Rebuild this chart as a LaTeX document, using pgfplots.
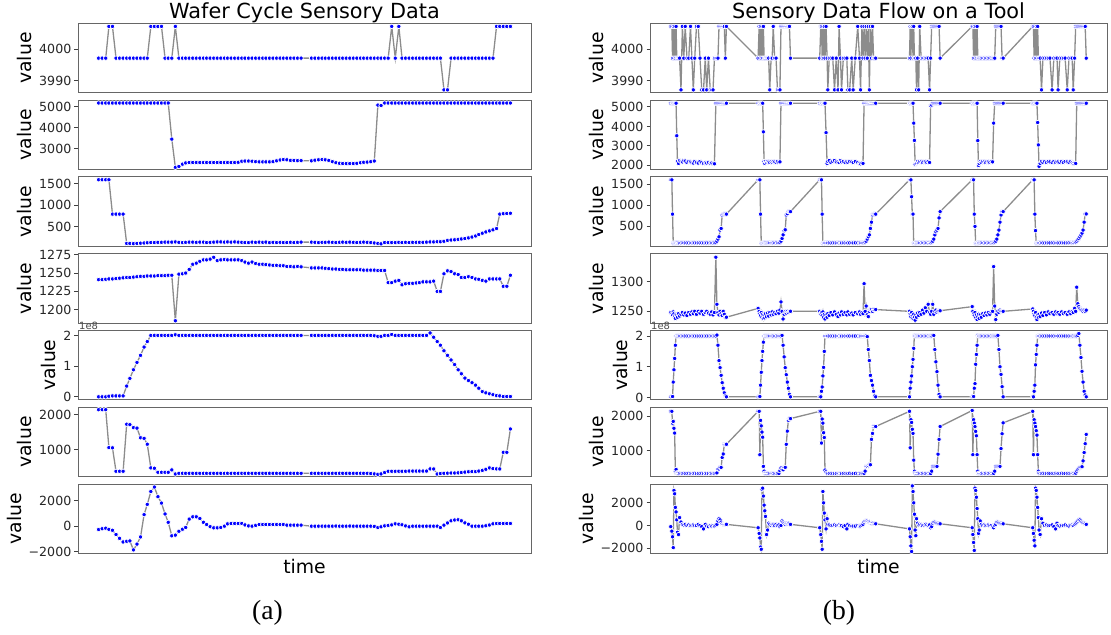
\documentclass[border=0pt]{standalone}
\usepackage{pgfplots}
\pgfplotsset{compat=1.18}
\usepackage{pgfplotstable}
\usepackage{fontspec}
\setmainfont{DejaVu Sans}
\newfontfamily\capfont{Liberation Serif}

% left: one wafer cycle, x in picture units
\pgfplotstableread{
x a b c d e f g
275 3997.2 5190 1600 1241 0.00 2144 -260
285 3997.2 5190 1600 1241 0.00 2144 -200
295 3997.2 5190 1600 1241.5 0.00 2144 -160
304 4007.3 5190 1600 1242 0.02 1067 -250
314 4007.3 5190 790 1242 0.03 1060 -320
324 3997.2 5190 790 1242.5 0.03 394 -650
334 3997.2 5190 790 1243 0.03 394 -950
344 3997.2 5190 790 1243.5 0.03 394 -1230
354 3997.2 5190 100 1244 0.35 1731 -1180
363 3997.2 5190 100 1244 0.60 1720 -1150
373 3997.2 5190 95 1244.5 0.88 1635 -1850
383 3997.2 5190 100 1245 1.12 1620 -1400
393 3997.2 5190 105 1245.5 1.35 1346 -840
403 3997.2 5190 110 1245.5 1.62 1330 900
412 3997.2 5190 115 1246 1.80 1163 1700
422 4007.3 5190 120 1246 2.00 490 2700
432 4007.3 5190 120 1246 2.00 480 3050
442 4007.3 5190 125 1246.5 2.00 365 2300
452 4007.3 5190 125 1246.5 2.00 365 1800
462 3997.2 5190 130 1246.5 2.00 365 950
471 3997.2 5190 130 1247 2.00 365 300
481 3997.2 3460 130 1247 2.00 433 -750
491 4007.3 2110 135 1185 2.02 317 -700
501 3997.2 2150 125 1248.5 2.00 336 -400
511 3997.2 2260 120 1249 2.00 336 -240
520 3997.2 2320 125 1250 2.00 336 -100
530 3997.2 2340 130 1255 2.00 336 550
540 3997.2 2340 130 1262 2.00 336 730
550 3997.2 2340 125 1263.5 2.00 336 730
560 3997.2 2340 130 1266 2.00 336 600
570 3997.2 2340 130 1268 2.00 336 300
579 3997.2 2340 120 1268 2.00 336 130
589 3997.2 2340 125 1269 2.00 336 -40
599 3997.2 2340 130 1271.5 2.00 336 -130
609 3997.2 2340 135 1267 2.00 336 -130
619 3997.2 2340 135 1268 2.00 336 -100
629 3997.2 2340 130 1268.5 2.00 336 0
638 3997.2 2340 135 1268 2.00 336 180
648 3997.2 2340 130 1268 2.00 336 210
658 3997.2 2340 135 1268 2.00 336 210
668 3997.2 2350 130 1268 2.00 336 210
678 3997.2 2400 125 1267 2.00 336 210
687 3997.2 2410 120 1265 2.00 336 100
697 3997.2 2410 120 1263.5 2.00 336 20
707 3997.2 2400 130 1265 2.00 336 0
717 3997.2 2380 125 1263 2.00 336 60
727 3997.2 2370 130 1262 2.00 336 130
737 3997.2 2370 125 1262 2.00 336 130
746 3997.2 2370 130 1261.5 2.00 336 130
756 3997.2 2370 120 1261 2.00 336 130
766 3997.2 2380 125 1260.5 2.00 336 130
776 3997.2 2420 120 1260.5 2.00 336 130
786 3997.2 2460 125 1260 2.00 336 130
795 3997.2 2480 120 1260 2.00 336 130
805 3997.2 2470 120 1259 2.00 336 80
815 3997.2 2440 125 1259 2.00 336 80
825 3997.2 2440 120 1258.5 2.00 336 80
835 3997.2 2430 125 1259 2.00 336 80
845 3997.2 2430 130 1258.5 2.00 336 80
874 3997.2 2420 130 1257 2.00 336 0
884 3997.2 2450 125 1257 2.00 336 0
894 3997.2 2470 120 1257 2.00 336 0
904 3997.2 2480 125 1257 2.00 336 0
913 3997.2 2470 125 1256.5 2.00 336 0
923 3997.2 2440 130 1256 2.00 336 0
933 3997.2 2380 125 1255.5 2.00 336 0
943 3997.2 2330 120 1255.5 2.00 336 10
953 3997.2 2300 125 1255 2.00 336 0
962 3997.2 2290 130 1255 2.00 336 0
972 3997.2 2290 125 1254.5 2.00 336 0
982 3997.2 2290 130 1254.5 2.00 336 10
992 3997.2 2290 125 1254.5 2.00 336 0
1002 3997.2 2300 120 1254.5 2.00 336 0
1012 3997.2 2330 125 1254.5 2.00 336 0
1021 3997.2 2350 130 1254 2.00 336 0
1031 3997.2 2360 125 1254 2.00 336 0
1041 3997.2 2380 120 1254 2.00 330 0
1051 3997.2 2410 110 1254 1.99 320 -20
1061 3997.2 5090 100 1253.5 1.97 308 -105
1070 3997.2 5070 90 1253.5 1.97 320 -50
1080 3997.2 5190 120 1253.5 2.00 360 26
1090 3997.2 5190 120 1237 2.00 394 60
1100 4007.3 5190 120 1237 2.03 394 100
1110 3997.2 5190 120 1239 2.00 394 183
1120 4007.3 5190 125 1240 2.00 394 150
1129 3997.2 5190 120 1234 2.00 394 110
1139 3997.2 5190 125 1235.5 2.00 394 20
1149 3997.2 5190 120 1236 2.00 400 -50
1159 3997.2 5190 125 1236 2.00 400 0
1169 3997.2 5190 125 1236.5 2.00 400 0
1178 3997.2 5190 125 1237 2.00 400 0
1188 3997.2 5190 125 1238 2.00 400 0
1198 3997.2 5190 130 1238 2.00 400 0
1208 3997.2 5190 135 1238 2.08 462 0
1218 3997.2 5190 135 1239 1.94 460 0
1228 3997.2 5190 140 1225 1.80 317 0
1237 3997.2 5190 140 1225 1.68 330 -105
1247 3987.1 5190 150 1249 1.50 336 80
1257 3987.1 5190 170 1253 1.35 340 250
1267 3997.2 5190 180 1252 1.20 345 418
1277 3997.2 5190 185 1249 1.05 345 480
1287 3997.2 5190 195 1248 0.88 350 500
1296 3997.2 5190 205 1244 0.75 360 418
1306 3997.2 5190 215 1244 0.61 370 260
1316 3997.2 5190 230 1245 0.53 380 150
1326 3997.2 5190 250 1244 0.46 385 0
1336 3997.2 5190 275 1242 0.38 385 0
1345 3997.2 5190 310 1241.5 0.28 400 0
1355 3997.2 5190 340 1240 0.17 420 0
1365 3997.2 5190 370 1239 0.13 450 30
1375 3997.2 5190 395 1242 0.10 490 90
1385 3997.2 5190 420 1242 0.07 470 183
1395 4007.3 5190 450 1242 0.04 462 209
1404 4007.3 5190 790 1242 0.03 460 209
1414 4007.3 5190 800 1232 0.01 933 209
1424 4007.3 5190 805 1232 0.01 933 209
1434 4007.3 5190 810 1247 0.01 1596 209
}\lefttab

% right: six cycles on one tool
\pgfplotstableread{
x a b c d e f g
312 4007.3 5190 1600 1248 0.02 2144 -100
315 4007.3 5190 1600 1246 0.03 2144 -500
317 3997.2 5190 790 1244 0.03 1800 -1000
319 4007.3 5190 100 1249 0.50 1850 -1955
321 3997.2 5190 100 1246 0.90 1650 3100
323 4007.3 5190 110 1241 1.27 1510 2800
325 3997.2 5190 105 1238 1.70 390 1600
327 4007.3 5190 110 1245 2.00 450 1200
329 3997.2 3520 110 1243 2.00 350 500
331 3997.2 2200 110 1240 2.00 340 -600
334 3997.2 2100 110 1246 2.00 330 -800
337 3997.2 2250 105 1242 2.00 335 700
341 3987.1 2200 110 1245 2.00 330 300
345 4007.3 2180 110 1248 2.00 330 100
349 3997.2 2250 112 1244 2.00 335 50
353 4007.3 2220 110 1247 2.00 330 100
358 3997.2 2150 110 1243 2.00 330 0
363 3997.2 2200 110 1248 2.00 335 50
368 4007.3 2180 108 1245 2.00 330 0
372 3997.2 2150 110 1249 2.00 330 0
376 3987.1 2120 110 1246 2.00 330 50
380 3997.2 2200 110 1250 2.00 335 0
385 4007.3 2150 110 1245 2.00 330 0
390 4007.3 2120 110 1250 2.00 330 100
395 3997.2 2200 110 1247 2.00 330 0
400 3987.1 2150 112 1250 2.00 335 -100
405 3987.1 2100 110 1245 2.00 330 -300
410 3997.2 2130 110 1248 2.00 330 100
414 3987.1 2120 110 1250 2.00 330 -50
419 3997.2 2150 110 1247 2.00 330 -100
424 3987.1 2100 112 1245 2.00 335 0
428 3987.1 2120 110 1249 2.00 330 -50
432 3987.1 2090 110 1244 2.00 330 0
436 3997.2 2080 110 1248 2.00 330 -50
440 3997.2 5190 115 1342 2.00 335 0
443 3997.2 5190 150 1262 2.03 350 100
446 3997.2 5190 200 1248 1.70 460 400
449 4007.3 5190 254 1244 1.20 465 600
452 4007.3 5190 413 1250 0.97 510 500
455 4007.3 5190 452 1246 0.72 510 300
458 4007.3 5190 770 1243 0.48 798 150
461 4007.3 5190 790 1250 0.30 900 100
464 4007.3 5190 794 1245 0.15 1183 100
467 3997.2 5190 794 1240 0.05 1183 100
470 4007.3 5190 790 1240 0.02 1183 100
560 3997.2 5190 1600 1255 0.02 2144 -200
563 4007.3 5190 1600 1250 0.03 2144 -700
565 3997.2 5190 1600 1246 0.03 880 -1100
567 4007.3 5190 790 1243 0.40 1880 -1900
569 3997.2 5190 100 1248 0.82 1720 -2100
571 4007.3 5190 100 1240 1.20 1540 3200
573 3997.2 5190 105 1245 1.50 1390 3300
575 4007.3 3720 110 1238 1.80 540 2600
577 3997.2 2200 110 1244 2.00 400 1800
579 3997.2 2100 110 1239 2.00 340 1300
581 3997.2 2200 110 1246 2.00 330 800
584 3997.2 2150 108 1241 2.00 330 -800
587 3997.2 2200 110 1247 2.00 335 -400
590 3997.2 2180 110 1242 2.00 330 200
593 3987.1 2150 110 1248 2.00 330 100
597 3997.2 2200 110 1244 2.00 330 0
600 3997.2 2150 110 1249 2.00 335 100
603 4007.3 2200 110 1245 2.00 330 50
607 3997.2 2180 110 1248 2.00 330 0
611 3997.2 2150 112 1246 2.00 330 100
615 3987.1 2200 110 1250 2.00 335 0
619 3987.1 2150 110 1247 2.00 330 50
622 3987.1 2180 115 1252 2.00 413 -100
625 4007.3 5190 150 1266 2.00 490 0
628 4007.3 5190 214 1250 2.02 450 400
631 4007.3 5190 300 1237 1.70 440 300
634 4007.3 5190 397 1245 1.32 510 200
637 4007.3 5190 420 1249 0.97 510 100
640 4007.3 5190 770 1247 0.74 1183 200
643 4007.3 5190 800 1250 0.50 1567 150
646 4007.3 5190 849 1248 0.30 1885 200
649 4007.3 5190 849 1250 0.10 1933 150
652 3997.2 5190 849 1250 0.02 1933 100
735 3997.2 5190 1600 1250 0.02 2144 -200
738 4007.3 5190 1600 1246 0.02 2144 -800
740 4007.3 5190 1600 1248 0.20 1220 -1400
742 3997.2 5190 790 1243 0.34 1920 -2100
744 4007.3 5190 100 1249 0.70 1800 3000
746 3997.2 5190 100 1240 0.98 1520 2000
748 4007.3 5190 105 1245 1.50 1380 1100
750 3997.2 5190 110 1237 2.00 430 500
753 4007.3 3680 110 1244 2.00 380 -300
756 3997.2 2100 110 1240 2.00 340 600
758 3987.1 2200 110 1246 2.00 330 100
762 3997.2 2250 110 1243 2.00 330 50
767 3997.2 2150 108 1248 2.00 335 0
772 3997.2 2200 110 1244 2.00 330 0
777 3987.1 2250 110 1249 2.00 330 50
782 3997.2 2180 110 1245 2.00 330 0
787 3987.1 2200 112 1241 2.00 335 0
790 4007.3 2150 110 1247 2.00 330 50
794 3997.2 2250 110 1244 2.00 330 0
797 3987.1 2180 110 1249 2.00 330 0
802 3997.2 2200 110 1245 2.00 335 -100
807 3997.2 2150 110 1248 2.00 330 0
812 3997.2 2200 108 1244 2.00 330 -300
815 3987.1 2150 110 1249 2.00 330 100
820 3987.1 2200 110 1245 2.00 335 0
826 3997.2 2180 110 1247 2.00 330 -50
830 3987.1 2150 110 1244 2.00 330 -50
836 3997.2 2200 112 1248 2.00 335 -50
843 4007.3 2150 110 1246 2.00 330 0
848 3997.2 2100 110 1249 2.00 330 -50
851 3987.1 2080 110 1245 2.00 330 -50
855 4007.3 2120 110 1248 2.00 335 0
858 3997.2 2100 112 1246 2.00 330 100
861 4007.3 5190 115 1297 2.00 335 300
864 3997.2 5190 130 1250 2.00 400 400
867 4007.3 5190 150 1259 2.00 538 400
870 3997.2 5190 200 1244 1.98 538 400
873 4007.3 5190 254 1241 1.56 560 350
876 3987.1 5190 300 1250 1.20 587 300
879 4007.3 5190 452 1253 0.72 587 250
882 3997.2 5190 600 1253 0.55 1327 200
885 4007.3 5190 770 1250 0.40 1500 200
888 3997.2 5190 790 1253 0.20 1702 150
891 3997.2 5190 790 1253 0.05 1702 150
894 3997.2 5190 790 1253 0.02 1702 150
990 3997.2 5190 1600 1250 0.02 2144 -300
992 4007.3 5190 1600 1246 0.30 1080 -1000
994 3997.2 5190 1600 1241 0.50 1900 -1800
996 4007.3 5190 1200 1248 0.70 1820 -2300
998 4007.3 5190 790 1243 1.00 1620 3500
1000 3997.2 5190 790 1238 1.24 1500 3000
1002 4007.3 4170 100 1245 1.60 721 2000
1004 3997.2 3280 100 1240 2.02 400 1000
1006 3997.2 2050 105 1235 2.00 340 -400
1008 3997.2 2100 110 1244 2.00 330 -900
1010 3987.1 2150 110 1240 2.00 330 600
1013 3997.2 2200 110 1247 2.00 335 200
1016 3987.1 2150 110 1243 2.00 330 50
1019 4007.3 2200 110 1248 2.00 330 100
1023 3997.2 2180 110 1245 2.00 330 50
1027 3997.2 2150 112 1252 2.00 335 0
1031 3997.2 2200 110 1247 2.00 330 50
1035 3997.2 2180 110 1256 2.00 330 100
1039 3997.2 2150 110 1250 2.00 330 50
1043 3997.2 2200 110 1262 2.00 335 0
1047 3987.1 2150 112 1248 2.00 330 50
1050 3997.2 5060 115 1245 2.00 330 -200
1053 4007.3 5100 130 1250 2.00 400 -100
1056 4007.3 5190 150 1262 2.02 538 200
1059 4007.3 5190 200 1245 2.02 538 300
1062 4007.3 5190 300 1250 1.56 538 300
1065 4007.3 5190 373 1252 1.16 538 250
1068 4007.3 5190 410 1248 0.84 538 200
1071 4007.3 5190 452 1250 0.40 894 200
1074 4007.3 5190 700 1251 0.10 1327 150
1077 3997.2 5190 849 1251 0.02 1702 150
1168 4007.3 5190 1600 1258 0.02 2170 -200
1170 4007.3 5190 1600 1250 0.03 880 -800
1172 3997.2 5190 1600 1246 0.03 1900 -1500
1174 4007.3 5190 790 1243 0.30 1800 -2200
1176 3997.2 5190 500 1248 0.45 1700 3300
1178 4007.3 5190 100 1240 1.08 1560 3100
1180 3997.2 5190 100 1244 1.40 1430 2500
1182 4007.3 5190 105 1236 1.70 880 1500
1184 3997.2 3270 110 1241 2.02 400 600
1186 3997.2 2000 110 1245 2.00 340 -700
1188 3997.2 2100 110 1238 2.00 330 -400
1191 3997.2 2200 110 1244 2.00 330 400
1194 3997.2 2150 110 1240 2.00 335 100
1198 3997.2 2200 112 1246 2.00 330 0
1202 3997.2 2180 110 1243 2.00 330 50
1206 3997.2 2150 110 1247 2.00 335 0
1210 3997.2 2200 110 1244 2.00 330 0
1214 3997.2 2180 110 1248 2.00 330 50
1218 3997.2 2150 112 1245 2.00 335 0
1222 3997.2 2200 110 1249 2.00 330 0
1226 3997.2 2180 110 1250 2.00 330 -100
1229 3997.2 4170 115 1326 2.00 335 -200
1232 3997.2 5190 130 1259 2.00 400 0
1235 4007.3 5190 150 1236 2.00 538 100
1238 4007.3 5190 200 1245 2.00 538 300
1241 4007.3 5190 300 1250 2.02 538 300
1244 4007.3 5190 413 1248 1.56 538 250
1247 4007.3 5190 600 1252 1.00 538 200
1250 4007.3 5190 770 1250 0.75 1058 200
1253 3997.2 5190 849 1250 0.35 1490 150
1256 3997.2 5190 849 1250 0.02 1808 150
1340 4007.3 5190 1600 1254 0.02 2144 -200
1342 4007.3 5190 1600 1250 0.02 880 -700
1344 3997.2 5190 1600 1246 0.20 1900 -1300
1346 4007.3 5190 790 1243 0.40 1800 -1800
1348 3997.2 5190 400 1248 1.06 1700 3300
1350 4007.3 5190 100 1240 1.40 1580 3100
1352 3997.2 5190 100 1236 1.70 1450 2500
1354 4007.3 4200 105 1244 2.00 880 1600
1356 3997.2 3050 110 1240 2.00 400 700
1358 3997.2 1950 110 1245 2.00 340 -400
1361 3997.2 2100 110 1241 2.00 330 -800
1365 3987.1 2200 110 1247 2.00 330 600
1369 3997.2 2150 110 1243 2.00 335 200
1374 3997.2 2200 108 1248 2.00 330 0
1379 3997.2 2150 110 1244 2.00 330 50
1384 3997.2 2200 110 1249 2.00 335 0
1389 3997.2 2180 110 1246 2.00 330 0
1395 3987.1 2150 112 1248 2.00 330 50
1400 3997.2 2200 110 1245 2.00 330 -100
1405 3997.2 2150 110 1249 2.00 335 -300
1409 3997.2 2200 110 1246 2.00 330 200
1412 3987.1 2180 110 1248 2.00 330 0
1417 3997.2 2150 110 1245 2.00 330 -50
1422 3997.2 2200 112 1249 2.00 335 0
1427 3997.2 2150 110 1246 2.00 330 0
1432 3997.2 2200 110 1248 2.00 330 50
1438 3987.1 2180 110 1245 2.00 335 0
1443 3997.2 2150 112 1249 2.00 330 -50
1448 3997.2 2200 110 1246 2.00 330 0
1452 3997.2 2150 110 1250 2.00 330 50
1455 3987.1 2100 115 1248 2.00 335 0
1459 3997.2 2100 120 1255 2.00 330 100
1462 4007.3 2100 130 1250 2.00 340 200
1465 4007.3 5190 150 1291 2.00 400 300
1468 4007.3 5190 180 1263 2.02 442 400
1471 4007.3 5190 210 1258 2.08 480 500
1474 4007.3 5190 250 1255 1.70 510 500
1477 4007.3 5190 294 1253 1.30 520 400
1480 4007.3 5190 340 1252 0.85 529 300
1483 4007.3 5190 413 1250 0.50 700 250
1486 4007.3 5190 600 1252 0.20 942 200
1489 4007.3 5190 794 1250 0.08 1200 150
1492 3997.2 5190 794 1252 0.02 1471 100
}\righttab

\pgfplotsset{
  panel/.style={scale only axis, height=34.7pt, anchor=north west,
    axis line style={draw=black!60, line width=0.5pt},
    xtick=\empty, ytick pos=left, tick align=outside,
    scaled y ticks=false,
    major tick length=1.75pt, every tick/.style={black!75, line width=0.5pt},
    yticklabel style={font=\fontsize{6.3}{7}\selectfont, text=black!85, inner sep=1.4pt},
    ylabel={value}, ylabel style={font=\fontsize{9.4}{11}\selectfont, inner sep=2pt},
    every axis title/.style={font=\fontsize{10.4}{12}\selectfont,
      at={(0.5,1)}, anchor=base, yshift=2.6pt},
    xlabel style={font=\fontsize{9.4}{11}\selectfont, at={(0.5,0)}, anchor=base, yshift=-10pt},
  },
  lcol/.style={panel, width=226.5pt, xmin=217, xmax=1492},
  rcol/.style={panel, width=228.5pt, xmin=253, xmax=1551},
  sig/.style={draw=black!45, line width=0.65pt, mark=*, mark size=1.1pt,
    mark options={fill=blue, draw=white, line width=0.35pt, solid}},
  e8/.style={extra description/.code={
    \node[anchor=south west, inner sep=0.4pt, text=black!70,
      font=\fontsize{5}{6}\selectfont] at (0,1) {1e8};}},
}

\begin{document}
\begin{tikzpicture}
\useasboundingbox (0,0) rectangle (555.5pt,317.5pt);

% ---- (a) wafer cycle
\begin{axis}[lcol, at={(39pt,305.85pt)}, ymin=3986.2, ymax=4008.3,
  ytick={3990,4000}, yticklabels={3990,4000}, title={Wafer Cycle Sensory Data}]
\addplot[sig] table[x=x,y=a]{\lefttab};
\end{axis}
\begin{axis}[lcol, at={(39pt,267.45pt)}, ymin=2005, ymax=5330,
  ytick={3000,4000,5000}, yticklabels={3000,4000,5000}]
\addplot[sig] table[x=x,y=b]{\lefttab};
\end{axis}
\begin{axis}[lcol, at={(39pt,229.05pt)}, ymin=32, ymax=1667,
  ytick={500,1000,1500}, yticklabels={500,1000,1500}]
\addplot[sig] table[x=x,y=c]{\lefttab};
\end{axis}
\begin{axis}[lcol, at={(39pt,190.65pt)}, ymin=1181.8, ymax=1276.4,
  ytick={1200,1225,1250,1275}, yticklabels={1200,1225,1250,1275}]
\addplot[sig] table[x=x,y=d]{\lefttab};
\end{axis}
\begin{axis}[lcol, e8, at={(39pt,152.25pt)}, ymin=-0.1, ymax=2.16,
  ytick={0,1,2}, yticklabels={0,1,2}]
\addplot[sig] table[x=x,y=e]{\lefttab};
\end{axis}
\begin{axis}[lcol, at={(39pt,113.85pt)}, ymin=240, ymax=2212,
  ytick={1000,2000}, yticklabels={1000,2000}]
\addplot[sig] table[x=x,y=f]{\lefttab};
\end{axis}
\begin{axis}[lcol, at={(39pt,75.45pt)}, ymin=-2131, ymax=3281,
  ytick={-2000,0,2000}, yticklabels={−2000,0,2000}, xlabel={time}]
\addplot[sig] table[x=x,y=g]{\lefttab};
\end{axis}

% ---- (b) data flow on a tool
\begin{axis}[rcol, at={(325pt,305.85pt)}, ymin=3986.2, ymax=4008.3,
  ytick={3990,4000}, yticklabels={3990,4000}, title={Sensory Data Flow on a Tool}]
\addplot[sig] table[x=x,y=a]{\righttab};
\end{axis}
\begin{axis}[rcol, at={(325pt,267.45pt)}, ymin=1788, ymax=5352,
  ytick={2000,3000,4000,5000}, yticklabels={2000,3000,4000,5000}]
\addplot[sig] table[x=x,y=b]{\righttab};
\end{axis}
\begin{axis}[rcol, at={(325pt,229.05pt)}, ymin=30, ymax=1670,
  ytick={500,1000,1500}, yticklabels={500,1000,1500}]
\addplot[sig] table[x=x,y=c]{\righttab};
\end{axis}
\begin{axis}[rcol, at={(325pt,190.65pt)}, ymin=1230, ymax=1348,
  ytick={1250,1300}, yticklabels={1250,1300}]
\addplot[sig] table[x=x,y=d]{\righttab};
\end{axis}
\begin{axis}[rcol, e8, at={(325pt,152.25pt)}, ymin=-0.08, ymax=2.18,
  ytick={0,1,2}, yticklabels={0,1,2}]
\addplot[sig] table[x=x,y=e]{\righttab};
\end{axis}
\begin{axis}[rcol, at={(325pt,113.85pt)}, ymin=238, ymax=2262,
  ytick={1000,2000}, yticklabels={1000,2000}]
\addplot[sig] table[x=x,y=f]{\righttab};
\end{axis}
\begin{axis}[rcol, at={(325pt,75.45pt)}, ymin=-2474, ymax=3659,
  ytick={-2000,0,2000}, yticklabels={−2000,0,2000}, xlabel={time}]
\addplot[sig] table[x=x,y=g]{\righttab};
\end{axis}

\node[anchor=base, font=\capfont\fontsize{13.8}{15}\selectfont] at (133.75pt,7.5pt) {(a)};
\node[anchor=base, font=\capfont\fontsize{13.8}{15}\selectfont] at (419.5pt,7.5pt) {(b)};
\end{tikzpicture}
\end{document}
